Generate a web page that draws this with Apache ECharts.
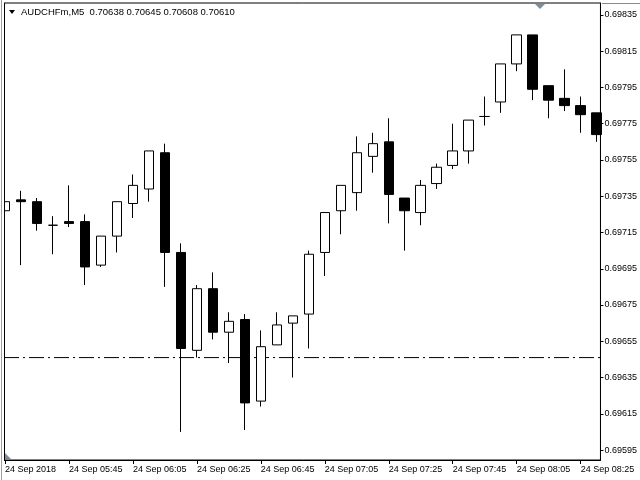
<!DOCTYPE html>
<html>
<head>
<meta charset="utf-8">
<script src="https://cdn.jsdelivr.net/npm/echarts@6/dist/echarts.min.js"></script>
<style>html,body{margin:0;padding:0;background:#fff}#c{width:640px;height:480px}</style>
</head>
<body>
<div id="c"></div>
<script>
// 5-minute bars, 24 Sep 2018 05:25 .. 08:30
var times = ["05:25","05:30","05:35","05:40","05:45","05:50","05:55","06:00","06:05","06:10","06:15","06:20","06:25","06:30","06:35","06:40","06:45","06:50","06:55","07:00","07:05","07:10","07:15","07:20","07:25","07:30","07:35","07:40","07:45","07:50","07:55","08:00","08:05","08:10","08:15","08:20","08:25","08:30"];
var opens  = [0.69727,0.69733,0.69732,0.69719,0.69721,0.69721,0.69697,0.69713,0.69731,0.69739,0.69759,0.69704,0.69650,0.69684,0.69660,0.69667,0.69622,0.69653,0.69665,0.69670,0.69704,0.69727,0.69737,0.69757,0.69765,0.69734,0.69726,0.69742,0.69752,0.69760,0.69779,0.69787,0.69808,0.69824,0.69796,0.69789,0.69785,0.69781];
var highs  = [0.69737,0.69738,0.69734,0.69724,0.69741,0.69725,0.69713,0.69732,0.69747,0.69760,0.69764,0.69709,0.69686,0.69693,0.69671,0.69670,0.69661,0.69671,0.69669,0.69705,0.69726,0.69741,0.69768,0.69770,0.69778,0.69734,0.69744,0.69753,0.69775,0.69777,0.69790,0.69808,0.69824,0.69824,0.69796,0.69805,0.69790,0.69781];
var lows   = [0.69725,0.69697,0.69716,0.69703,0.69718,0.69686,0.69696,0.69704,0.69723,0.69732,0.69685,0.69605,0.69646,0.69656,0.69643,0.69606,0.69619,0.69653,0.69635,0.69651,0.69691,0.69714,0.69727,0.69748,0.69720,0.69705,0.69719,0.69739,0.69750,0.69753,0.69774,0.69781,0.69804,0.69788,0.69778,0.69782,0.69770,0.69765];
var closes = [0.69732,0.69732,0.69720,0.69719,0.69720,0.69696,0.69713,0.69732,0.69741,0.69760,0.69704,0.69651,0.69684,0.69660,0.69666,0.69621,0.69652,0.69664,0.69669,0.69703,0.69726,0.69741,0.69759,0.69764,0.69736,0.69727,0.69741,0.69751,0.69760,0.69777,0.69779,0.69808,0.69824,0.69794,0.69788,0.69785,0.69780,0.69769];
var xTickIdx = [0,4,8,12,16,20,24,28,32,36];
var xTickLabels = ["24 Sep 2018","24 Sep 05:45","24 Sep 06:05","24 Sep 06:25","24 Sep 06:45","24 Sep 07:05","24 Sep 07:25","24 Sep 07:45","24 Sep 08:05","24 Sep 08:25"];
var yTicks = [0.69595,0.69615,0.69635,0.69655,0.69675,0.69695,0.69715,0.69735,0.69755,0.69775,0.69795,0.69815,0.69835];
var levelLine = 0.69646;
var headerText = "AUDCHFm,M5  0.70638 0.70645 0.70608 0.70610";

var FONT = "'Liberation Sans', Arial, sans-serif";
var XMIN = -0.0624, XMAX = 37.24;
var data = times.map(function (t, i) { return [i, opens[i], closes[i], lows[i], highs[i]]; });

var chart = echarts.init(document.getElementById('c'), null, {renderer: 'canvas'});
chart.setOption({
  animation: false,
  backgroundColor: '#fff',
  title: {
    text: headerText, left: 21, top: 7, padding: 0,
    textStyle: {fontFamily: FONT, fontSize: 9.5, fontWeight: 'normal', color: '#000'}
  },
  grid: {left: 4, right: 38, top: 3, bottom: 20, show: true, borderColor: '#000', borderWidth: 1, backgroundColor: '#fff'},
  xAxis: {
    type: 'value', min: XMIN, max: XMAX,
    splitLine: {show: false},
    axisLine: {show: true, onZero: false, lineStyle: {color: '#000', width: 1}},
    axisTick: {show: true, length: 4, customValues: xTickIdx, lineStyle: {color: '#000'}},
    axisLabel: {
      show: true, customValues: xTickIdx, align: 'left', margin: 5,
      color: '#000', fontFamily: FONT, fontSize: 9,
      formatter: function (v) { var k = xTickIdx.indexOf(Math.round(v)); return k >= 0 ? xTickLabels[k] : ''; }
    }
  },
  yAxis: {
    type: 'value', position: 'right', scale: true,
    min: 0.695895, max: 0.698416,
    splitLine: {show: false},
    axisLine: {show: true, onZero: false, lineStyle: {color: '#000', width: 1}},
    axisTick: {show: true, length: 3, customValues: yTicks, lineStyle: {color: '#000'}},
    axisLabel: {
      show: true, customValues: yTicks, margin: 4,
      color: '#000', fontFamily: FONT, fontSize: 9,
      formatter: function (v) { return v.toFixed(5); }
    }
  },
  series: [{
    type: 'line',
    data: [[XMIN, levelLine], [XMAX, levelLine]],
    symbol: 'none', silent: true, clip: true, z: 1,
    lineStyle: {color: '#000', width: 1, type: [15, 4, 2, 4]}
  }, {
    type: 'candlestick',
    data: data,
    encode: {x: 0, y: [1, 2, 3, 4]},
    barWidth: 10,
    clip: true, z: 2,
    itemStyle: {color: '#fff', color0: '#000', borderColor: '#000', borderColor0: '#000', borderWidth: 1}
  }],
  graphic: [
    {type: 'rect', shape: {x: 0, y: 0, width: 4, height: 480}, style: {fill: '#fff'}, silent: true, z: 100},
    {type: 'line', shape: {x1: 4.5, y1: 3, x2: 4.5, y2: 460}, style: {stroke: '#000', lineWidth: 1}, silent: true, z: 101},
    {type: 'line', shape: {x1: 602, y1: 3.5, x2: 640, y2: 3.5}, style: {stroke: '#8a8a8a', lineWidth: 1}, silent: true, z: 101},
    {type: 'line', shape: {x1: 1.5, y1: 0, x2: 1.5, y2: 480}, style: {stroke: '#a0a0a0', lineWidth: 1}, silent: true, z: 101},
    {type: 'polygon', shape: {points: [[9, 10], [15, 10], [12, 14]]}, style: {fill: '#000'}, silent: true, z: 101},
    {type: 'polygon', shape: {points: [[535, 4], [545, 4], [540, 9]]}, style: {fill: '#7f8c99'}, silent: true, z: 101},
    {type: 'polygon', shape: {points: [[5, 453], [5, 459], [11, 459]]}, style: {fill: '#7f8c99'}, silent: true, z: 101}
  ]
});
</script>
</body>
</html>
